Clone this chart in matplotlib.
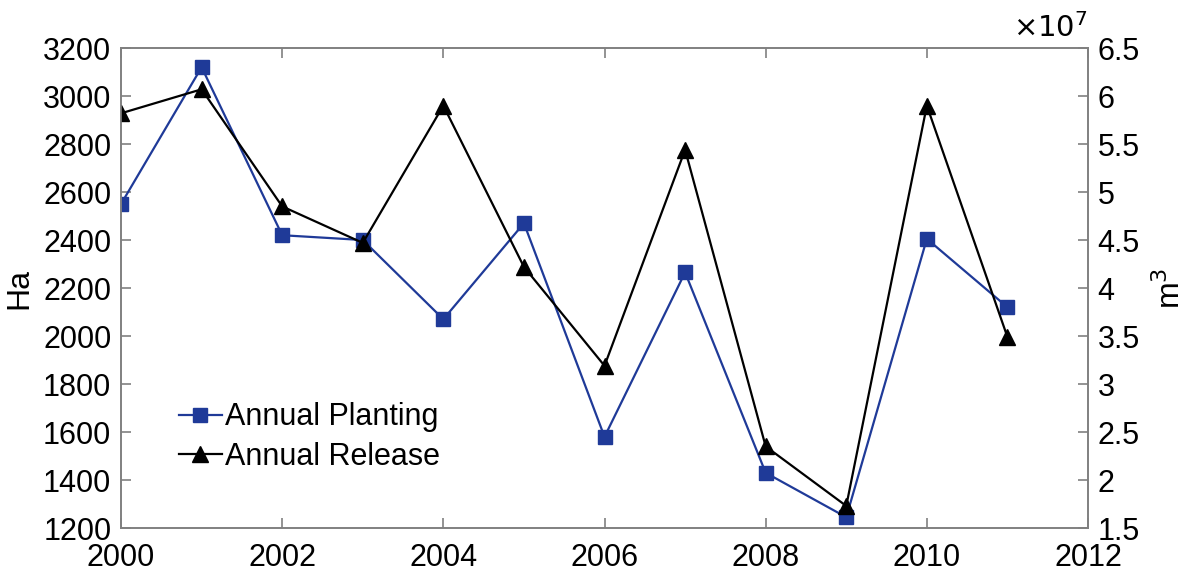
import matplotlib
matplotlib.use("Agg")
import matplotlib.pyplot as plt
from matplotlib.ticker import FuncFormatter

plt.rcParams['font.family'] = ['Liberation Sans', 'DejaVu Sans']

# data
years = [2000, 2001, 2002, 2003, 2004, 2005, 2006, 2007, 2008, 2009, 2010, 2011]
planting_ha = [2550, 3120, 2420, 2400, 2070, 2470, 1580, 2265, 1430, 1245, 2405, 2120]
release_m3 = [5.82e7, 6.07e7, 4.85e7, 4.47e7, 5.90e7, 4.22e7, 3.19e7, 5.44e7,
              2.35e7, 1.73e7, 5.90e7, 3.49e7]

xticks = [2000, 2002, 2004, 2006, 2008, 2010, 2012]
left_ticks = list(range(1200, 3201, 200))
right_ticks = [1.5e7, 2e7, 2.5e7, 3e7, 3.5e7, 4e7, 4.5e7, 5e7, 5.5e7, 6e7, 6.5e7]

blue = '#1f3a98'
spine_gray = '#808080'
fs = 22

fig = plt.figure(figsize=(11.96, 5.73), dpi=100)
ax = fig.add_axes([0.1012, 0.0785, 0.8085, 0.8377])
ax2 = ax.twinx()

l1, = ax.plot(years, planting_ha, color=blue, lw=1.6, marker='s', ms=9.5,
              label='Annual Planting')
l2, = ax2.plot(years, release_m3, color='black', lw=1.6, marker='^', ms=12,
               label='Annual Release')

ax.set_xlim(2000, 2012)
ax.set_ylim(1200, 3200)
ax.set_xticks(xticks)
ax.set_yticks(left_ticks)
ax2.set_ylim(1.5e7, 6.5e7)
ax2.set_yticks(right_ticks)
ax2.yaxis.set_major_formatter(FuncFormatter(lambda v, p: '%g' % (v / 1e7)))

for a in (ax, ax2):
    for s in a.spines.values():
        s.set_color(spine_gray)
        s.set_linewidth(1.2)
    a.tick_params(direction='in', length=7, width=1.2, color=spine_gray,
                  labelsize=fs, pad=7)
ax.tick_params(axis='x', top=True, pad=11)

ax.set_ylabel('Ha', fontsize=fs + 1, labelpad=6)
ax2.set_ylabel('m$^3$', fontsize=fs + 1, labelpad=10)
ax2.text(1.0, 1.01, r'$\times10^7$', transform=ax2.transAxes, ha='right',
         va='bottom', fontsize=fs - 1, math_fontfamily='dejavusans')

ax.legend([l1, l2], ['Annual Planting', 'Annual Release'], loc='upper left',
          bbox_to_anchor=(0.06, 0.262), frameon=False, fontsize=fs,
          handlelength=1.4, handletextpad=0.1, borderaxespad=0, borderpad=0,
          labelspacing=0.32)

fig.savefig('out.png', dpi=100)
